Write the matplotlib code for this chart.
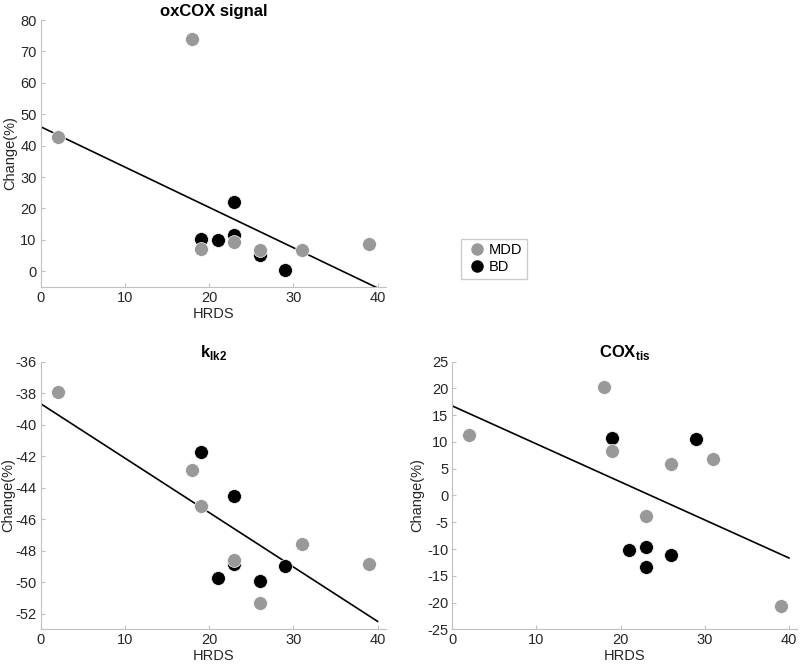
import numpy as np
import matplotlib
matplotlib.use('Agg')
import matplotlib.pyplot as plt
from matplotlib.lines import Line2D

plt.rcParams['font.family'] = ['Liberation Sans', 'DejaVu Sans']
plt.rcParams['mathtext.fontset'] = 'custom'
plt.rcParams['mathtext.rm'] = 'Liberation Sans'
plt.rcParams['mathtext.bf'] = 'Liberation Sans:bold'
plt.rcParams['axes.unicode_minus'] = False

# HRDS scores for each group
hrds_mdd = [2, 18, 19, 23, 26, 31, 39]
hrds_bd = [19, 21, 23, 23, 26, 29]

# oxCOX signal change (%)
ox_mdd = [42.7, 74.0, 7.2, 9.2, 6.7, 6.9, 8.7]
ox_bd = [10.3, 9.85, 22.0, 11.5, 5.1, 0.4]

# k_lk2 change (%)
k_mdd = [-37.9, -42.9, -45.15, -48.6, -51.3, -47.6, -48.86]
k_bd = [-41.72, -49.73, -44.52, -48.88, -49.92, -48.99]

# COX_tis change (%)
cox_mdd = [11.36, 20.2, 8.25, -3.9, 5.95, 6.88, -20.58]
cox_bd = [10.8, -10.18, -9.68, -13.29, -11.11, 10.5]

mdd_color = '#999999'
bd_color = '#000000'
spine_color = '#c0c0c0'
text_color = '#262626'

fig = plt.figure(figsize=(8, 6.65), dpi=100)

# rect, title, data, y-limits, y-ticks, ylabel x position
panels = [
    ([0.0509, 0.5684, 0.4316, 0.4015], 'oxCOX signal', ox_mdd, ox_bd, (-5, 80), range(0, 81, 10), -0.068),
    ([0.0509, 0.0537, 0.4316, 0.4024], r'k$_{\mathbf{lk2}}$', k_mdd, k_bd, (-53, -36), range(-52, -35, 2), -0.075),
    ([0.5654, 0.0537, 0.4313, 0.4024], r'COX$_{\mathbf{tis}}$', cox_mdd, cox_bd, (-25, 25), range(-25, 26, 5), -0.082),
]

for rect, title, y_mdd, y_bd, ylim, yticks, lab_x in panels:
    ax = fig.add_axes(rect)
    ax.scatter(hrds_bd, y_bd, s=100, color=bd_color, edgecolor='white', linewidth=0.5, zorder=3)
    ax.scatter(hrds_mdd, y_mdd, s=100, color=mdd_color, edgecolor='white', linewidth=0.5, zorder=4)

    # least-squares line over all subjects
    x_all = np.array(hrds_mdd + hrds_bd)
    y_all = np.array(y_mdd + y_bd)
    slope, icpt = np.polyfit(x_all, y_all, 1)
    xs = np.array([0, 40])
    ax.plot(xs, slope * xs + icpt, color='black', linewidth=1.2, zorder=2)

    ax.set_xlim(0, 41)
    ax.set_ylim(*ylim)
    ax.set_xticks(range(0, 41, 10))
    ax.set_yticks(list(yticks))
    for s in ['top', 'right']:
        ax.spines[s].set_visible(False)
    for s in ['left', 'bottom']:
        ax.spines[s].set_color(spine_color)
    ax.tick_params(direction='in', length=3, color=spine_color,
                   labelsize=10.5, labelcolor=text_color, pad=3)
    ax.set_xlabel('HRDS', fontsize=10.5, color=text_color, labelpad=1)
    ax.set_ylabel('Change(%)', fontsize=10.5, color=text_color)
    ax.yaxis.set_label_coords(lab_x, 0.5)
    ax.set_title(title, fontsize=12, fontweight='bold', pad=3)

handles = [
    Line2D([], [], marker='o', linestyle='none', markersize=10, markerfacecolor=mdd_color,
           markeredgecolor='white', label='MDD'),
    Line2D([], [], marker='o', linestyle='none', markersize=10, markerfacecolor=bd_color,
           markeredgecolor='white', label='BD'),
]
fig.legend(handles=handles, loc='center', bbox_to_anchor=(0.6175, 0.611), fontsize=10.5,
           frameon=True, fancybox=False, edgecolor=spine_color, handletextpad=0.1,
           borderpad=0.3, labelspacing=0.2, handlelength=1.5, borderaxespad=0)

fig.savefig('out.png', dpi=100)
